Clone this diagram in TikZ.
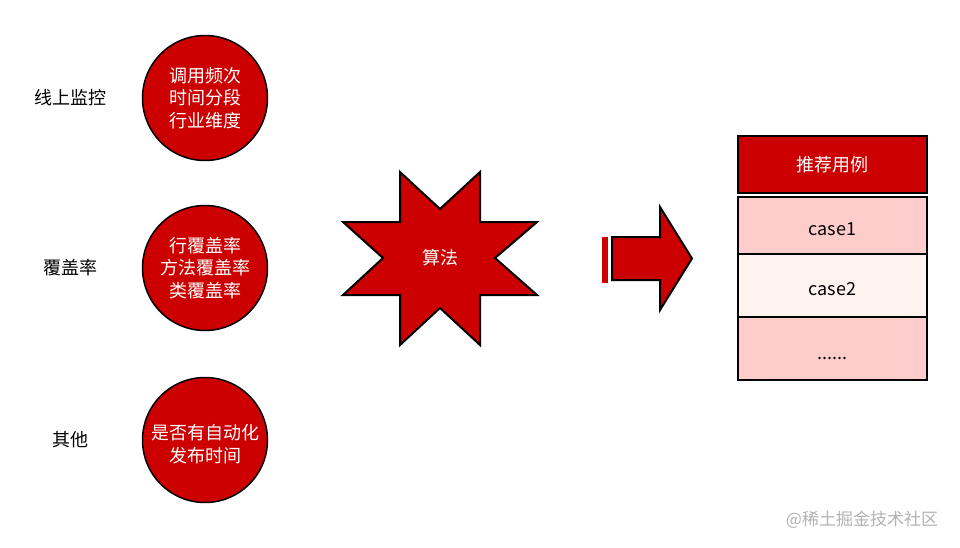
\documentclass[tikz,border=0pt]{standalone}
\usepackage{fontspec}
\setmainfont{Noto Sans CJK SC}
\usetikzlibrary{positioning}
\definecolor{darkred}{HTML}{CC0000}
\definecolor{pinkrow}{HTML}{FFCCCC}
\definecolor{palerow}{HTML}{FFF3F0}

\begin{document}
\begin{tikzpicture}[x=1pt, y=-1pt, node distance=170pt, font=\fontsize{18}{22.5}\selectfont, main node/.style={circle,draw,line width=1.5pt,fill=darkred,text=white,minimum size=125pt,inner sep=0pt,align=center}, row node/.style={rectangle,draw,line width=2pt,minimum width=189pt,inner sep=0pt,outer sep=0pt}, shape line/.style={draw,line width=2pt,fill=darkred,line join=miter}]

      \useasboundingbox (0,0) rectangle (960,548);

      \node[main node] (1) at (205,98) {调用频次\\时间分段\\行业维度};
      \node[main node] (2) [below of=1] {行覆盖率\\方法覆盖率\\类覆盖率};
      \node[main node] (3) [below of=2, node distance=172pt] {};
      \node[text=white, align=center] (13) at ([yshift=-4pt]3.center) {是否有自动化\\发布时间};

      \node (4) [left of=1, node distance=135pt] {线上监控};
      \node (5) [left of=2, node distance=135pt] {覆盖率};
      \node (6) [left of=3, node distance=135pt] {其他};

      % star
      \draw[shape line] (400,172) -- (440,209) -- (480,172) -- (480,222) -- (537,222) -- (495,258) -- (537,295) -- (480,295) -- (480,345) -- (440,308) -- (400,345) -- (400,295) -- (343,295) -- (383,258) -- (343,222) -- (400,222) -- cycle;
      \node[text=white] (7) at (440,258) {算法};

      % arrow
      \fill[darkred] (602,237) rectangle (608,283);
      \draw[shape line] (612,237) -- (660,237) -- (660,207) -- (692,258.5) -- (660,310) -- (660,280) -- (612,280) -- cycle;

      \node[row node, fill=darkred, text=white, minimum height=57pt] (8) at (832.5,164.5) {推荐用例};
      \node[row node, fill=pinkrow, minimum height=57pt, text height=19pt, text depth=0pt] (9) [below=4pt of 8] {case1};
      \node[row node, fill=palerow, minimum height=63pt, text height=19pt, text depth=0pt] (10) [below=0pt of 9] {case2};
      \node[row node, fill=pinkrow, minimum height=63pt, text height=22pt, text depth=0pt] (11) [below=0pt of 10] {......};

      \node[text=black!30, font=\fontsize{17}{20}\selectfont] (12) at (862,520) {@稀土掘金技术社区};

\end{tikzpicture}
\end{document}
